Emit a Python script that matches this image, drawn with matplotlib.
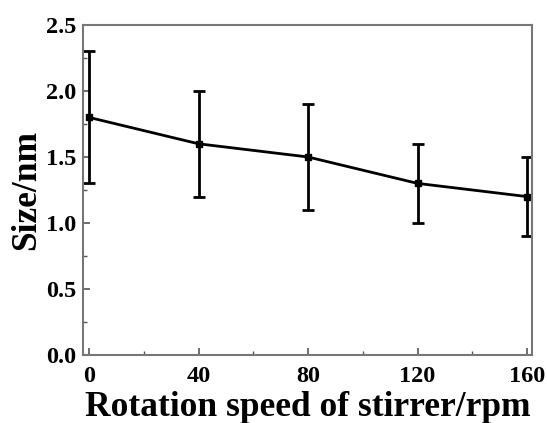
import matplotlib
matplotlib.use("Agg")
import matplotlib.pyplot as plt
from matplotlib.ticker import MultipleLocator

speed = [0, 40, 80, 120, 160]
size = [1.8, 1.6, 1.5, 1.3, 1.2]
err = [0.5, 0.4, 0.4, 0.3, 0.3]
xticks = [0, 40, 80, 120, 160]
yticks = [0.0, 0.5, 1.0, 1.5, 2.0, 2.5]

plt.rcParams['font.family'] = ['Liberation Serif', 'DejaVu Serif']
plt.rcParams['font.weight'] = 'bold'

fig = plt.figure(figsize=(5.47, 4.23), dpi=100)
ax = fig.add_axes([0.1517, 0.1608, 0.8209, 0.7801])
ax.errorbar(speed, size, yerr=err, color='black', lw=2, marker='s', ms=4,
            capsize=4, capthick=2, elinewidth=2)
ax.set_xlim(-2.2, 161.8)
ax.set_ylim(0, 2.5)
ax.set_xticks(xticks)
ax.set_yticks(yticks)
ax.set_yticklabels([f"{v:.1f}" for v in yticks])
ax.xaxis.set_minor_locator(MultipleLocator(20))
ax.yaxis.set_minor_locator(MultipleLocator(0.25))
ax.tick_params(which='both', direction='in', colors='#555555', labelcolor='black', labelsize=17.5)
ax.tick_params(which='major', length=5, width=1.2)
ax.tick_params(which='minor', length=3, width=1.0)
ax.tick_params(axis='x', which='major', pad=8)
ax.tick_params(axis='y', which='major', pad=5)
for s in ax.spines.values():
    s.set_color('#777777')
    s.set_linewidth(1.5)
for lab in ax.get_xticklabels() + ax.get_yticklabels():
    lab.set_fontweight('bold')
ax.set_xlabel('Rotation speed of stirrer/rpm', fontsize=25.5, fontweight='bold', labelpad=3)
ax.set_ylabel('Size/nm', fontsize=25.5, fontweight='bold', labelpad=2)
fig.savefig('out.png', dpi=100)
